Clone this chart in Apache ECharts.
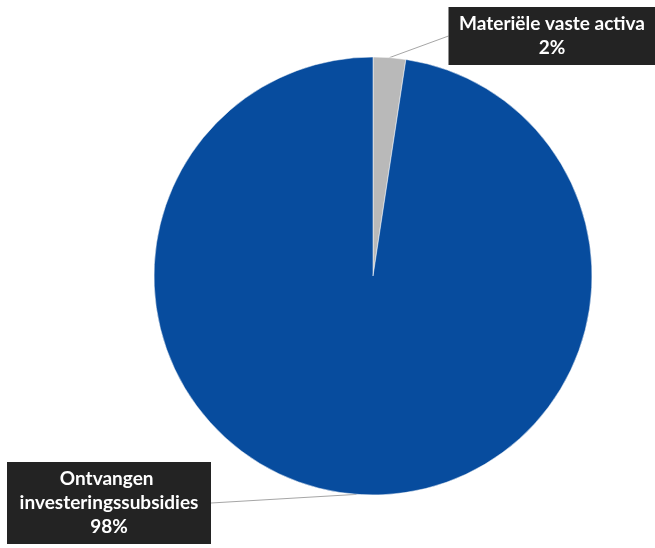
<!DOCTYPE html>
<html>
<head>
<meta charset="utf-8">
<script src="https://cdn.jsdelivr.net/npm/echarts@6/dist/echarts.min.js"></script>
<style>
  html, body { margin: 0; padding: 0; background: #fff; }
  #chart { width: 655px; height: 548px; }
</style>
</head>
<body>
<div id="chart"></div>
<script>
// data
const names = ["Materiële vaste activa", "Ontvangen investeringssubsidies"];
const values = [2.4, 97.6];
const colors = ["#b9b9b9", "#074c9e"];
// where each label box sits (top centre) and its text width
const labelSpots = [
  { x: 552, y: 7, w: 199 },
  { x: 109, y: 462, w: 196 },
];

const chart = echarts.init(document.getElementById("chart"));
chart.setOption({
  backgroundColor: "#fff",
  animation: false,
  series: [
    {
      type: "pie",
      center: [373, 276],
      radius: 219,
      startAngle: 90,
      clockwise: true,
      data: names.map((n, i) => ({
        name: n,
        value: values[i],
        itemStyle: { color: colors[i] },
        label: { width: labelSpots[i].w },
      })),
      itemStyle: { borderColor: "#fff", borderWidth: 0.5 },
      label: {
        show: true,
        position: "outside",
        formatter: (p) => p.name + "\n" + Math.round(p.percent) + "%",
        overflow: "break",
        align: "center",
        color: "#fff",
        fontFamily: "Lato",
        fontWeight: "bold",
        fontSize: 19,
        lineHeight: 24,
        backgroundColor: "#232323",
        padding: [5, 4],
      },
      labelLine: {
        show: true,
        length: 10,
        length2: 0,
        lineStyle: { color: "#a6a6a6", width: 1 },
      },
      labelLayout: (params) => {
        const s = labelSpots[params.dataIndex];
        return { x: s.x, y: s.y, align: "center", verticalAlign: "top" };
      },
      emphasis: { disabled: true },
    },
  ],
});
</script>
</body>
</html>
